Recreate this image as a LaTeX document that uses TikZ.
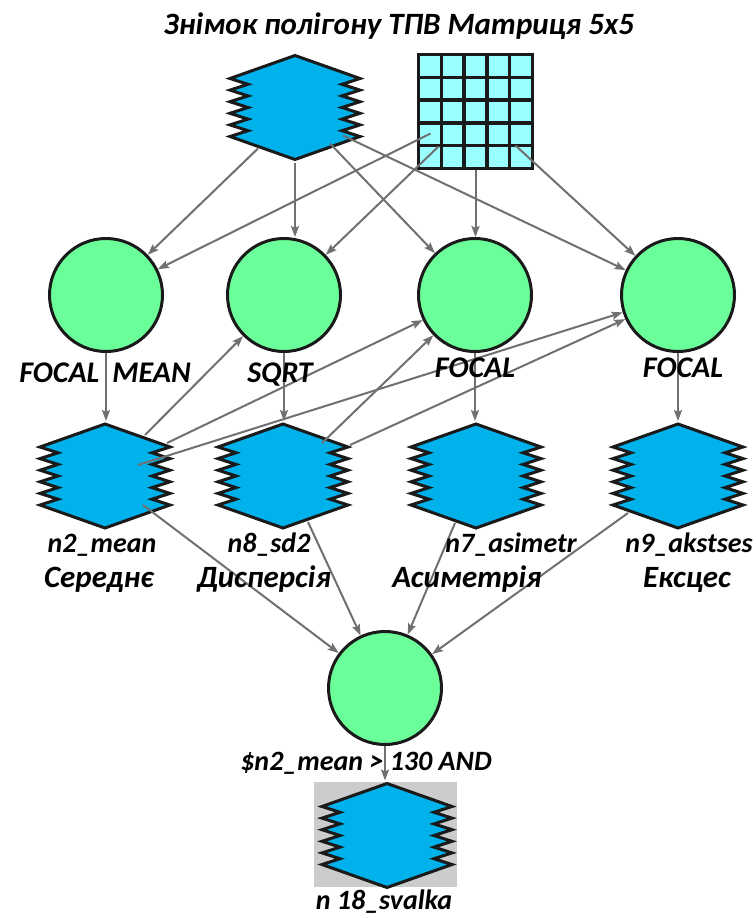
\documentclass[tikz,border=0pt]{standalone}
\usepackage{fontspec}
\setmainfont{Carlito}
\usetikzlibrary{arrows.meta}
\definecolor{rasterblue}{RGB}{0,178,236}
\definecolor{circgreen}{RGB}{106,255,153}
\definecolor{gridcyan}{RGB}{153,255,255}
\definecolor{outl}{RGB}{26,26,26}
\definecolor{conngray}{RGB}{112,112,112}
\definecolor{bggray}{RGB}{204,204,204}
\tikzset{
  rastershape/.style={fill=rasterblue, draw=outl, line width=3pt, line join=miter, miter limit=10},
  raster/.style={rectangle, minimum width=150pt, minimum height=110pt, inner sep=0pt, outer sep=0pt,
    path picture={\path[rastershape, shift={(path picture bounding box.center)}]
      (0,-52) -- (65,-29) -- (47,-23.2) -- (65,-17.4) -- (47,-11.6) -- (65,-5.8) -- (47,0)
      -- (65,5.8) -- (47,11.6) -- (65,17.4) -- (47,23.2) -- (65,29) -- (0,52)
      -- (-65,29) -- (-47,23.2) -- (-65,17.4) -- (-47,11.6) -- (-65,5.8) -- (-47,0)
      -- (-65,-5.8) -- (-47,-11.6) -- (-65,-17.4) -- (-47,-23.2) -- (-65,-29) -- cycle;}},
  bgbox/.style={rectangle, fill=bggray, minimum width=143pt, minimum height=105pt, inner sep=0pt},
  gridbox/.style={rectangle, fill=gridcyan, draw=outl, line width=3.5pt, minimum size=114pt, inner sep=0pt,
    path picture={\begin{scope}[shift={(path picture bounding box.center)}]
      \foreach \k in {-34.2,-11.4,11.4,34.2}{
        \draw[outl, line width=3.5pt] (\k,-60) -- (\k,60);
        \draw[outl, line width=3.5pt] (-60,\k) -- (60,\k);}
      \end{scope}}},
  proc/.style={circle, fill=circgreen, draw=outl, line width=3pt, minimum size=113pt, inner sep=0pt},
  conn/.style={draw=conngray, line width=2pt, -{Stealth[length=11pt,width=8pt,inset=2pt]}},
  lbl/.style={anchor=base, inner sep=0pt, font=\bfseries\itshape\fontsize{28}{30}\selectfont},
  opl/.style={anchor=base, inner sep=0pt, font=\bfseries\itshape\fontsize{30}{32}\selectfont},
  big/.style={anchor=base, inner sep=0pt, font=\bfseries\itshape\fontsize{31}{33}\selectfont}
}
\begin{document}
\begin{tikzpicture}[x=1pt, y=-1pt]
\fill[white] (0,0) rectangle (755,918);
\useasboundingbox (0,0) rectangle (755,918);
% shapes
\node[raster] (R0) at (295,107.5) {};
\node[gridbox] (G) at (475.5,111.5) {};
\node[proc] (C1) at (106,295) {};
\node[proc] (C2) at (284,295) {};
\node[proc] (C3) at (475,295) {};
\node[proc] (C4) at (678,295) {};
\node[raster] (N2) at (105,476) {};
\node[raster] (N8) at (283,476) {};
\node[raster] (N7) at (476,476) {};
\node[raster] (N9) at (678,476) {};
\node[proc] (CB) at (385,688) {};
\node[bgbox] (RBbg) at (385.5,834.5) {};
\node[raster] (RB) at (387,835.5) {};
% connectors
\draw[conn] ([shift={(-37,41)}]R0.center) -- (C1);
\draw[conn] (R0.south) -- (R0.south |- C2.north);
\draw[conn] ([shift={(35,36)}]R0.center) -- (C3);
\draw[conn] ([shift={(48,28)}]R0.center) -- (C4);
\draw[conn] ([shift={(-45,22)}]G.center) -- (C1);
\draw[conn] ([shift={(-37,35)}]G.center) -- (C2);
\draw[conn] (G.south) -- (G.south |- C3.north);
\draw[conn] ([shift={(40,34)}]G.center) -- (C4);
\draw[conn] (C1.south) -- (C1.south |- N2.north);
\draw[conn] (C2.south) -- (C2.south |- N8.north);
\draw[conn] (C3.south) -- (C3.south |- N7.north);
\draw[conn] (C4.south) -- (C4.south |- N9.north);
\draw[conn] ([shift={(40,-41)}]N2.center) -- (C2);
\draw[conn] ([shift={(62,-33)}]N2.center) -- (C3);
\draw[conn] ([shift={(33,-11)}]N2.center) -- (C4);
\draw[conn] ([shift={(39,-33)}]N8.center) -- (C3);
\draw[conn] ([shift={(67,-31)}]N8.center) -- (C4);
\draw[conn] ([shift={(38,29)}]N2.center) -- (CB);
\draw[conn] ([shift={(25,46)}]N8.center) -- (CB);
\draw[conn] ([shift={(-21,47)}]N7.center) -- (CB);
\draw[conn] ([shift={(-50,37)}]N9.center) -- (CB);
\draw[conn] (CB.south) -- (CB.south |- RB.north);
% labels
\node[big] (title) at (399,34) {Знімок полігону ТПВ Матриця 5х5};
\node[opl] (l1) at (105,382) {FOCAL\hspace{13pt}MEAN};
\node[opl] (l2) at (280,382) {SQRT};
\node[opl] (l3) at (475,377) {FOCAL};
\node[opl] (l4) at (683,377) {FOCAL};
\node[lbl] (n2) at (102,552) {n2\_mean};
\node[big] (d2) at (99,587) {Середнє};
\node[lbl] (n8) at (269,552) {n8\_sd2};
\node[big] (d8) at (264,587) {Дисперсія};
\node[lbl] (n7) at (511,552) {n7\_asimetr};
\node[big] (d7) at (467,587) {Асиметрія};
\node[lbl] (n9) at (689,552) {n9\_akstses};
\node[big] (d9) at (687,587) {Ексцес};
\node[lbl] (cond) at (366,770) {\$n2\_mean > 130 AND};
\node[lbl] (nb) at (384,909) {n 18\_svalka};
\end{tikzpicture}
\end{document}
